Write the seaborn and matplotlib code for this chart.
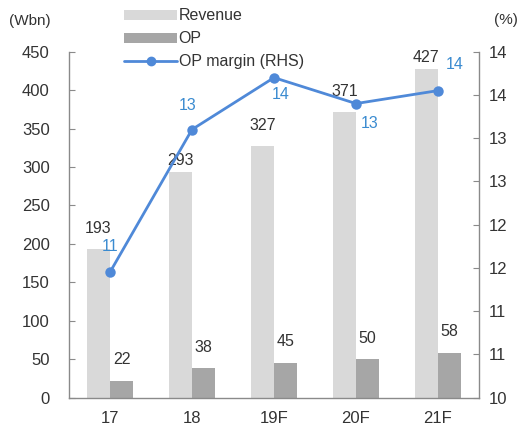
import math
import numpy as np
import pandas as pd
import matplotlib
matplotlib.use("Agg")
import matplotlib.pyplot as plt
from matplotlib.ticker import MultipleLocator, FuncFormatter
from matplotlib.patches import Patch
from matplotlib.lines import Line2D
import seaborn as sns

# Data
years = ["17", "18", "19F", "20F", "21F"]
revenue = [193, 293, 327, 371, 427]
op = [22, 38, 45, 50, 58]
op_margin = [11.45, 13.1, 13.7, 13.4, 13.55]

REV_C = "#d9d9d9"
OP_C = "#a6a6a6"
LINE_C = "#4f89d8"
LBL_BLUE = "#3a8bd0"
TXT = "#333333"
SPINE = "#8a8a8a"

sns.set_style("white")
plt.rcParams["font.family"] = ["Liberation Sans", "DejaVu Sans"]

df = pd.DataFrame({
    "year": years * 2,
    "value": revenue + op,
    "series": ["Revenue"] * len(years) + ["OP"] * len(years),
})

fig = plt.figure(figsize=(5.24, 4.29), dpi=100)
ax = fig.add_axes([0.1317, 0.0734, 0.7824, 0.8061])

sns.barplot(data=df, x="year", y="value", hue="series", order=years,
            hue_order=["Revenue", "OP"], palette=[REV_C, OP_C],
            width=0.568, gap=0, dodge=True, legend=False, ax=ax,
            saturation=1, edgecolor="none", linewidth=0)

ax.set_xlim(-0.5, len(years) - 0.5)
ax.set_ylim(0, 450)
ax.yaxis.set_major_locator(MultipleLocator(50))
ax.set_xlabel("")
ax.set_ylabel("")

# OP margin line on the right-hand axis
ax2 = ax.twinx()
sns.pointplot(x=years, y=op_margin, order=years, color=LINE_C, ax=ax2,
              markers="o", linestyles="-", markersize=6, linewidth=2)
ax2.set_xlim(-0.5, len(years) - 0.5)
ax2.set_ylim(10, 14)
ax2.yaxis.set_major_locator(MultipleLocator(0.5))
ax2.yaxis.set_major_formatter(FuncFormatter(lambda v, p: f"{int(math.floor(v + 0.5))}"))
ax2.set_ylabel("")

# Axes styling
for a in (ax, ax2):
    for s in a.spines.values():
        s.set_color(SPINE)
        s.set_linewidth(1.0)
    a.spines["top"].set_visible(False)
ax.spines["right"].set_visible(False)
ax2.spines["left"].set_visible(False)
ax2.spines["bottom"].set_visible(False)

ax.set_xticks(np.arange(len(years)))
ax.set_xticklabels(years)
ax.set_xticks(np.arange(len(years) - 1) + 0.5, minor=True)
ax.tick_params(axis="x", which="major", length=0, pad=10, labelsize=12, labelcolor=TXT)
ax.tick_params(axis="x", which="minor", direction="in", length=4, color=SPINE, width=1)
ax.tick_params(axis="y", direction="in", length=4, color=SPINE, pad=14, labelsize=12,
               labelcolor=TXT, left=True)
ax2.tick_params(axis="y", direction="in", length=4, color=SPINE, pad=7, labelsize=12,
                labelcolor=TXT, right=True)

# Value labels on bars (offsets in pixels above bar tops)
rev_off = [21, 12, 21, 21, 12]
rev_x = np.arange(len(years)) - 0.142
op_x = np.arange(len(years)) + 0.142
for x, v, d in zip(rev_x, revenue, rev_off):
    ax.annotate(f"{v}", (x, v), xytext=(0, d), textcoords="offset pixels",
                ha="center", va="center", fontsize=11.5, color=TXT)
for x, v in zip(op_x, op):
    ax.annotate(f"{v}", (x, v), xytext=(0, 21), textcoords="offset pixels",
                ha="center", va="center", fontsize=11.5, color=TXT)

# Margin labels
mg_off = [(0, 26), (-4, 24), (7, -17), (14, -20), (17, 26)]
for i, (v, (dx, dy)) in enumerate(zip(op_margin, mg_off)):
    ax2.annotate(f"{v:.0f}", (i, v), xytext=(dx, dy), textcoords="offset pixels",
                 ha="center", va="center", fontsize=11.5, color=LBL_BLUE)

# Unit labels
fig.text(30 / 524, 1 - 21 / 429, "(Wbn)", ha="center", va="center", fontsize=11, color=TXT)
fig.text(506 / 524, 1 - 20 / 429, "(%)", ha="center", va="center", fontsize=11, color=TXT)

# Legend
handles = [
    Patch(facecolor=REV_C, edgecolor="none", label="Revenue"),
    Patch(facecolor=OP_C, edgecolor="none", label="OP"),
    Line2D([0], [0], color=LINE_C, lw=2, marker="o", markersize=6, label="OP margin (RHS)"),
]
fig.legend(handles=handles, loc="upper left", bbox_to_anchor=(118 / 524, 1 - 2 / 429),
           frameon=False, fontsize=11.5, handlelength=3.3, handleheight=0.55,
           handletextpad=0.1, labelspacing=0.5, borderaxespad=0, labelcolor=TXT)

fig.savefig("out.png", dpi=100)
